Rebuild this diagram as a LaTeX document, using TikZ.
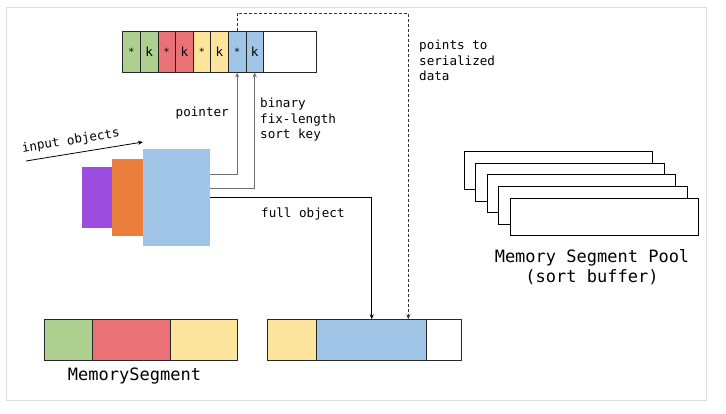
\documentclass[tikz,border=0pt]{standalone}
\usepackage{fontspec}
\setmainfont{DejaVu Sans Mono}
\usetikzlibrary{arrows.meta}
\definecolor{cgreen}{RGB}{173,208,145}
\definecolor{cred}{RGB}{234,114,118}
\definecolor{cyellow}{RGB}{253,229,157}
\definecolor{cblue}{RGB}{160,197,230}
\definecolor{cpurple}{RGB}{155,77,223}
\definecolor{corange}{RGB}{234,126,61}
\definecolor{cframe}{RGB}{221,221,221}
\definecolor{clink}{RGB}{110,110,110}
\newcommand{\lblsz}{\fontsize{12.6}{15.5}\selectfont}
\newcommand{\bigsz}{\fontsize{17}{20}\selectfont}
\newcommand{\st}{\raisebox{-0.35ex}{\fontsize{10}{10}\selectfont *}}
\begin{document}
\begin{tikzpicture}[x=1pt,y=-1pt,
  cell/.style={draw=black!85,line width=0.8pt,anchor=north west,inner sep=0pt,outer sep=0pt,minimum height=41.4pt,font=\lblsz},
  blob/.style={anchor=north west,inner sep=0pt,outer sep=0pt},
  poolbox/.style={draw=black,line width=0.8pt,fill=white,anchor=north west,inner sep=0pt,outer sep=0pt,minimum width=188.3pt,minimum height=37.7pt},
  txt/.style={font=\lblsz,inner sep=0pt},
  bigtxt/.style={font=\bigsz,inner sep=0pt,align=center},
  tip/.style={-{Stealth[length=5pt,width=4pt]}},
  graylink/.style={tip,draw=clink,line width=1pt},
  blacklink/.style={tip,draw=black,line width=0.8pt},
  dashlink/.style={tip,draw=black!80,line width=0.8pt,dashed,dash pattern=on 3pt off 2pt}]
\useasboundingbox (0,0) rectangle (726,414);
\draw[cframe,line width=1pt] (6,8) rectangle (706,400);

% top array
\node[cell,fill=cgreen,minimum width=17.6pt] (c1) at (122.7,31) {\st};
\node[cell,fill=cgreen,minimum width=17.6pt] (c2) at (140.3,31) {k};
\node[cell,fill=cred,minimum width=17.6pt] (c3) at (157.9,31) {\st};
\node[cell,fill=cred,minimum width=17.6pt] (c4) at (175.5,31) {k};
\node[cell,fill=cyellow,minimum width=17.6pt] (c5) at (193.1,31) {\st};
\node[cell,fill=cyellow,minimum width=17.6pt] (c6) at (210.7,31) {k};
\node[cell,fill=cblue,minimum width=17.6pt] (c7) at (228.3,31) {\st};
\node[cell,fill=cblue,minimum width=17.6pt] (c8) at (245.9,31) {k};
\node[cell,fill=white,minimum width=52.8pt] (c9) at (263.5,31) {};

% input objects
\node[blob,fill=cpurple,minimum width=30pt,minimum height=61.6pt] (o1) at (81.7,166.7) {};
\node[blob,fill=corange,minimum width=31.6pt,minimum height=77pt] (o2) at (111.7,159) {};
\node[blob,fill=cblue,minimum width=66.7pt,minimum height=96.4pt] (ob) at (143.3,149.3) {};

\coordinate (ia) at (26,161);
\coordinate (ib) at (143,142);
\draw[blacklink] (ia) -- (ib) node[txt,pos=0.4,sloped,above,yshift=6pt] {input objects};

% bottom arrays
\node[cell,fill=cgreen,minimum width=48.4pt] (m1) at (44.3,319.3) {};
\node[cell,fill=cred,minimum width=77.6pt] (m2) at (92.7,319.3) {};
\node[cell,fill=cyellow,minimum width=67.4pt] (m3) at (170.3,319.3) {};
\node[bigtxt] (mlabel) at (134.5,376) {MemorySegment};

\node[cell,fill=cyellow,minimum width=48.3pt] (r1) at (267.7,319.3) {};
\node[cell,fill=cblue,minimum width=110.7pt] (r2) at (316,319.3) {};
\node[cell,fill=white,minimum width=35pt] (r3) at (426.7,319.3) {};

% pool
\node[poolbox] (p1) at (464,151.7) {};
\node[poolbox] (p2) at (475.6,163.3) {};
\node[poolbox] (p3) at (487.2,174.9) {};
\node[poolbox] (p4) at (498.8,186.5) {};
\node[poolbox] (p5) at (510.4,198.1) {};
\node[bigtxt] (plabel) at (592,267) {Memory Segment Pool\\(sort buffer)};

% connectors
\draw[graylink] ([yshift=22.5pt]ob.east) -| (c7.south);
\draw[graylink] ([yshift=8.5pt]ob.east) -| (c8.south);
\draw[blacklink] (ob.east) -| ([xshift=0.4pt]r2.north);
\coordinate (dc) at (408.3,13.3);
\draw[dashlink] (c7.north) |- (dc) -- (dc |- r2.north);

% labels
\node[txt,anchor=east] (lptr) at (229,113) {pointer};
\node[txt,anchor=north west,align=left] (lkey) at (260,98) {binary\\fix-length\\sort key};
\node[txt,anchor=north west,align=left] (lpts) at (419,40) {points to\\serialized\\data};
\node[txt,anchor=west] (lfull) at (261,214) {full object};
\end{tikzpicture}
\end{document}
